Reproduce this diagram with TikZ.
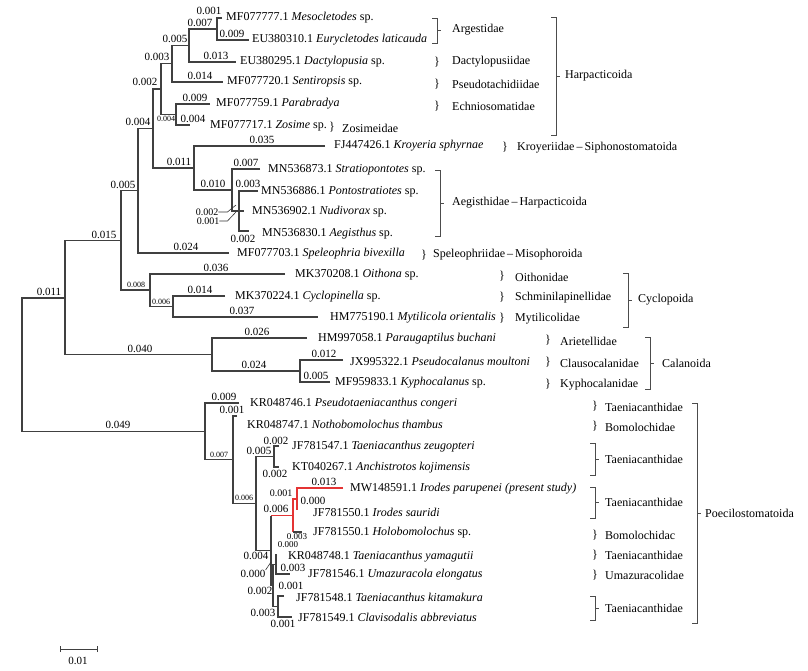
\documentclass[tikz,border=0pt]{standalone}
\usepackage{fontspec}
\setmainfont{Liberation Serif}
\definecolor{redbr}{RGB}{228,52,52}
\newcommand\grpbr[3]{\draw[brk] ({#1-5},#2) -- (#1,#2) -- (#1,#3) -- ({#1-5},#3);
  \draw[brk] (#1,{(#2+#3)/2}) -- ({#1+4},{(#2+#3)/2});}
\begin{document}
\begin{tikzpicture}[x=1pt,y=-1pt,
  br/.style={line width=1.1pt, draw=black!75},
  rbr/.style={line width=1.1pt, draw=redbr},
  brk/.style={line width=0.8pt, draw=black!70},
  ldr/.style={line width=0.6pt, draw=black!80},
  lab/.style={font=\fontsize{11}{11}\selectfont, inner sep=0pt, anchor=center},
  lbs/.style={font=\fontsize{10}{10}\selectfont, inner sep=0pt, anchor=center},
  lbt/.style={font=\fontsize{9}{9}\selectfont, inner sep=0pt, anchor=center},
  sm/.style={font=\fontsize{8}{8}\selectfont, inner sep=0pt, anchor=center},
  tx/.style={font=\fontsize{12}{12}\selectfont, inner sep=0pt, anchor=west},
  fam/.style={font=\fontsize{12}{12}\selectfont, inner sep=0pt, anchor=west},
  brace/.style={font=\fontsize{12}{12}\selectfont, inner sep=0pt, anchor=center}]
\useasboundingbox (0,0) rectangle (808,670);
\fill[white] (0,0) rectangle (808,670);
% leaves
\coordinate (L1) at (222,18);
\coordinate (L2) at (249,40);
\coordinate (L3) at (236,62);
\coordinate (L4) at (223,82);
\coordinate (L5) at (210,104);
\coordinate (L6) at (190,125);
\coordinate (L7) at (325,146);
\coordinate (L8) at (260,169);
\coordinate (L9) at (258,191);
\coordinate (L10) at (244,211);
\coordinate (L11) at (249,231);
\coordinate (L12) at (229,253);
\coordinate (L13) at (285,274);
\coordinate (L14) at (225,296);
\coordinate (L15) at (318,317);
\coordinate (L16) at (307,338);
\coordinate (L17) at (343,360);
\coordinate (L18) at (330,382);
\coordinate (L19) at (239,403);
\coordinate (L20) at (237,416);
\coordinate (L21) at (279,446);
\coordinate (L22) at (279,467);
\coordinate (L23) at (343,488);
\coordinate (L24) at (297,510);
\coordinate (L25) at (302,532);
\coordinate (L26) at (277,555);
\coordinate (L27) at (290,574);
\coordinate (L28) at (284,596);
\coordinate (L29) at (292,617);
% internal nodes
\coordinate (nme) at (217,29);
\coordinate (nad) at (189,45.5);
\coordinate (nas) at (172,63.5);
\coordinate (npz) at (176,114.5);
\coordinate (nh) at (161,89);
\coordinate (nagt) at (239,211);
\coordinate (nag) at (232,190);
\coordinate (nka) at (194,168);
\coordinate (nhk) at (153,128.5);
\coordinate (nhs) at (138,190.5);
\coordinate (ncm) at (173,306.5);
\coordinate (ncy) at (150,290);
\coordinate (nup) at (121,240.5);
\coordinate (npk) at (300,371);
\coordinate (nca) at (212,354.5);
\coordinate (na) at (65,298);
\coordinate (ntz) at (274,456.5);
\coordinate (nip) at (297,499);
\coordinate (nir) at (293,515.5);
\coordinate (ny) at (276,564.5);
\coordinate (nk) at (278,606.5);
\coordinate (nl) at (273,585.5);
\coordinate (nf) at (271,550.5);
\coordinate (ns) at (256,503.5);
\coordinate (nsv) at (233,459.75);
\coordinate (np) at (205,431.4);
\coordinate (root) at (22,364.7);
% branches
\draw[br] (L1) -| (nme) |- (L2);
\draw[br] (nme) -| (nad) |- (L3);
\draw[br] (nad) -| (nas) |- (L4);
\draw[br] (L5) -| (npz) |- (L6);
\draw[br] (nas) -| (nh) |- (npz);
\draw[br] (L9) -| (nagt) |- (L11);
\draw[br] (nagt) -- (L10);
\draw[br] (L8) -| (nag) |- (nagt);
\draw[br] (L7) -| (nka) |- (nag);
\draw[br] (nh) -| (nhk) |- (nka);
\draw[br] (nhk) -| (nhs) |- (L12);
\draw[br] (L14) -| (ncm) |- (L15);
\draw[br] (L13) -| (ncy) |- (ncm);
\draw[br] (nhs) -| (nup) |- (ncy);
\draw[br] (L17) -| (npk) |- (L18);
\draw[br] (L16) -| (nca) |- (npk);
\draw[br] (nup) -| (na) |- (nca);
\draw[br] (L21) -| (ntz) |- (L22);
\draw[rbr] (L23) -| (nip) |- (L24);
\draw[rbr] (nip) -| (nir) |- (nir |- L25);
\draw[br] (nir |- L25) -- (L25);
\draw[br] (L26) -| (ny) |- (L27);
\draw[br] (L28) -| (nk) |- (L29);
\draw[br] (ny) -| (nl) |- (nk);
\draw[rbr] (nir) -- (nf |- nir);
\draw[br] (nf |- nir) |- (nl);
\draw[br] (ntz) -| (ns) |- (nf);
\draw[br] (L20) -| (nsv) |- (ns);
\draw[br] (L19) -| (np) |- (nsv);
\draw[br] (na) -| (root) |- (np);
% branch labels
\node[lab] (b1) at (209,11) {0.001};
\node[lab] (b2) at (232,34) {0.009};
\node[lab] (b3) at (200,22.5) {0.007};
\node[lab] (b4) at (216,56) {0.013};
\node[lab] (b5) at (175,39) {0.005};
\node[lab] (b6) at (200,76) {0.014};
\node[lab] (b7) at (157,57) {0.003};
\node[lab] (b8) at (195,98) {0.009};
\node[lab] (b9) at (193,119) {0.004};
\node[sm] (b10) at (166,119) {0.004};
\node[lab] (b11) at (145,82) {0.002};
\node[lab] (b12) at (262,140) {0.035};
\node[lab] (b13) at (246,163) {0.007};
\node[lab] (b14) at (248,184) {0.003};
\node[lbs] (b15) at (207,212) {0.002};
\node[lbs] (b16) at (208,221) {0.001};
\node[lab] (b17) at (243,239) {0.002};
\node[lab] (b18) at (213,184) {0.010};
\node[lab] (b19) at (179,162) {0.011};
\node[lab] (b20) at (138,122) {0.004};
\node[lab] (b21) at (186,247) {0.024};
\node[lab] (b22) at (123,185) {0.005};
\node[lab] (b23) at (216,268) {0.036};
\node[lab] (b24) at (200,290) {0.014};
\node[lab] (b25) at (242,311) {0.037};
\node[sm] (b26) at (161,302) {0.006};
\node[sm] (b27) at (136,285) {0.008};
\node[lab] (b28) at (104,235) {0.015};
\node[lab] (b29) at (257,332) {0.026};
\node[lab] (b30) at (324,354) {0.012};
\node[lab] (b31) at (316,376) {0.005};
\node[lab] (b32) at (254,365) {0.024};
\node[lab] (b33) at (140,349) {0.040};
\node[lab] (b34) at (49,292) {0.011};
\node[lab] (b35) at (118,425) {0.049};
\node[lab] (b36) at (224,397) {0.009};
\node[lab] (b37) at (232,410) {0.001};
\node[sm] (b38) at (219,455) {0.007};
\node[lab] (b39) at (276,441) {0.002};
\node[lab] (b40) at (275,474) {0.002};
\node[lab] (b41) at (259,451) {0.005};
\node[lab] (b42) at (324,482) {0.013};
\node[lab] (b43) at (313,501) {0.000};
\node[lbt] (b44) at (297,536.5) {0.003};
\node[lbs] (b45) at (281,493) {0.001};
\node[lab] (b46) at (276,509) {0.006};
\node[lbt] (b47) at (288,545) {0.000};
\node[lab] (b48) at (293,568) {0.003};
\node[lab] (b49) at (253,574) {0.000};
\node[lab] (b50) at (291,586) {0.001};
\node[lab] (b51) at (283,624) {0.001};
\node[lab] (b52) at (263,613) {0.003};
\node[lab] (b53) at (260,591) {0.002};
\node[lab] (b54) at (256,556) {0.004};
\node[sm] (b55) at (244,498) {0.006};
% leaders
\draw[ldr] (b15.east) -- ++(9,0) -- (236,205);
\draw[ldr] (b16.east) -- ++(8,0) -- (236,212);
\draw[ldr] (b49.east) ++(0,-4) -- (271,562);
% taxa
\node[tx] (t1) at (226,18) {MF077777.1 \textit{Mesocletodes} sp.};
\node[tx] (t2) at (252,40) {EU380310.1 \textit{Eurycletodes laticauda}};
\node[tx] (t3) at (240,62) {EU380295.1 \textit{Dactylopusia} sp.};
\node[tx] (t4) at (227,82) {MF077720.1 \textit{Sentiropsis} sp.};
\node[tx] (t5) at (216,104) {MF077759.1 \textit{Parabradya}};
\node[tx] (t6) at (210,126) {MF077717.1 \textit{Zosime} sp.};
\node[tx] (t7) at (334,146) {FJ447426.1 \textit{Kroyeria sphyrnae}};
\node[tx] (t8) at (268,170) {MN536873.1 \textit{Stratiopontotes} sp.};
\node[tx] (t9) at (261,192) {MN536886.1 \textit{Pontostratiotes} sp.};
\node[tx] (t10) at (252,212) {MN536902.1 \textit{Nudivorax} sp.};
\node[tx] (t11) at (262,234) {MN536830.1 \textit{Aegisthus} sp.};
\node[tx] (t12) at (237,254) {MF077703.1 \textit{Speleophria bivexilla}};
\node[tx] (t13) at (295,275) {MK370208.1 \textit{Oithona} sp.};
\node[tx] (t14) at (235,297) {MK370224.1 \textit{Cyclopinella} sp.};
\node[tx] (t15) at (330,318) {HM775190.1 \textit{Mytilicola orientalis}};
\node[tx] (t16) at (318,339) {HM997058.1 \textit{Paraugaptilus buchani}};
\node[tx] (t17) at (350,361) {JX995322.1 \textit{Pseudocalanus moultoni}};
\node[tx] (t18) at (335,383) {MF959833.1 \textit{Kyphocalanus} sp.};
\node[tx] (t19) at (250,404) {KR048746.1 \textit{Pseudotaeniacanthus congeri}};
\node[tx] (t20) at (247,424) {KR048747.1 \textit{Nothobomolochus thambus}};
\node[tx] (t21) at (292,447) {JF781547.1 \textit{Taeniacanthus zeugopteri}};
\node[tx] (t22) at (292,468) {KT040267.1 \textit{Anchistrotos kojimensis}};
\node[tx] (t23) at (350,489) {MW148591.1 \textit{Irodes parupenei (present study)}};
\node[tx] (t24) at (313,512) {JF781550.1 \textit{Irodes sauridi}};
\node[tx] (t25) at (313,533) {JF781550.1 \textit{Holobomolochus} sp.};
\node[tx] (t26) at (288,557) {KR048748.1 \textit{Taeniacanthus yamagutii}};
\node[tx] (t27) at (308,575) {JF781546.1 \textit{Umazuracola elongatus}};
\node[tx] (t28) at (296,597) {JF781548.1 \textit{Taeniacanthus kitamakura}};
\node[tx] (t29) at (298,617) {JF781549.1 \textit{Clavisodalis abbreviatus}};
% family braces and labels
\grpbr{437}{18}{43}
\node[fam] (f1) at (452,30) {Argestidae};
\node[brace] (r2) at (437,62) {\}};
\node[fam] (f2) at (452,62) {Dactylopusiidae};
\node[brace] (r3) at (437,84) {\}};
\node[fam] (f3) at (452,84) {Pseudotachidiidae};
\node[brace] (r4) at (437,106) {\}};
\node[fam] (f4) at (452,106) {Echniosomatidae};
\node[brace] (r5) at (332,127) {\}};
\node[fam] (f5) at (342,128) {Zosimeidae};
\grpbr{556}{17}{135}
\node[fam] (o1) at (565,76) {Harpacticoida};
\node[brace] (r6) at (505,147) {\}};
\node[fam] (f6) at (517,148) {Kroyeriidae\,–\,Siphonostomatoida};
\grpbr{440}{170}{236}
\node[fam] (f7) at (452,203) {Aegisthidae\,–\,Harpacticoida};
\node[brace] (r8) at (424,255) {\}};
\node[fam] (f8) at (433,255) {Speleophriidae\,–\,Misophoroida};
\node[brace] (r9) at (502,276) {\}};
\node[fam] (f9) at (515,277) {Oithonidae};
\node[brace] (r10) at (502,297) {\}};
\node[fam] (f10) at (515,298) {Schminilapinellidae};
\node[brace] (r11) at (502,318) {\}};
\node[fam] (f11) at (515,319) {Mytilicolidae};
\grpbr{628}{273}{327}
\node[fam] (o2) at (638,300) {Cyclopoida};
\node[brace] (r12) at (548,340) {\}};
\node[fam] (f12) at (560,341) {Arietellidae};
\node[brace] (r13) at (548,362) {\}};
\node[fam] (f13) at (560,363) {Clausocalanidae};
\node[brace] (r14) at (548,384) {\}};
\node[fam] (f14) at (560,385) {Kyphocalanidae};
\grpbr{650}{337}{389}
\node[fam] (o3) at (662,363) {Calanoida};
\node[brace] (r15) at (595,406) {\}};
\node[fam] (f15) at (605,407) {Taeniacanthidae};
\node[brace] (r16) at (595,426) {\}};
\node[fam] (f16) at (605,427) {Bomolochidae};
\grpbr{595}{443}{475}
\node[fam] (f17) at (605,459) {Taeniacanthidae};
\grpbr{595}{487}{518}
\node[fam] (f18) at (605,502) {Taeniacanthidae};
\node[brace] (r19) at (595,535) {\}};
\node[fam] (f19) at (605,535) {Bomolochidac};
\node[brace] (r20) at (595,555) {\}};
\node[fam] (f20) at (605,555) {Taeniacanthidae};
\node[brace] (r21) at (595,575) {\}};
\node[fam] (f21) at (605,575) {Umazuracolidae};
\grpbr{595}{596}{620}
\node[fam] (f22) at (605,608) {Taeniacanthidae};
\grpbr{697}{403}{623}
\node[fam] (o4) at (705,513) {Poecilostomatoida};
% scale bar
\coordinate (s1) at (60,649);
\coordinate (s2) at (97,649);
\draw[br, line width=0.9pt] (s1) -- (s2);
\draw[br, line width=0.9pt] ([yshift=-3pt]s1) -- ([yshift=3pt]s1);
\draw[br, line width=0.9pt] ([yshift=-3pt]s2) -- ([yshift=3pt]s2);
\node[lab] (sl) at (78,661) {0.01};
\end{tikzpicture}
\end{document}
